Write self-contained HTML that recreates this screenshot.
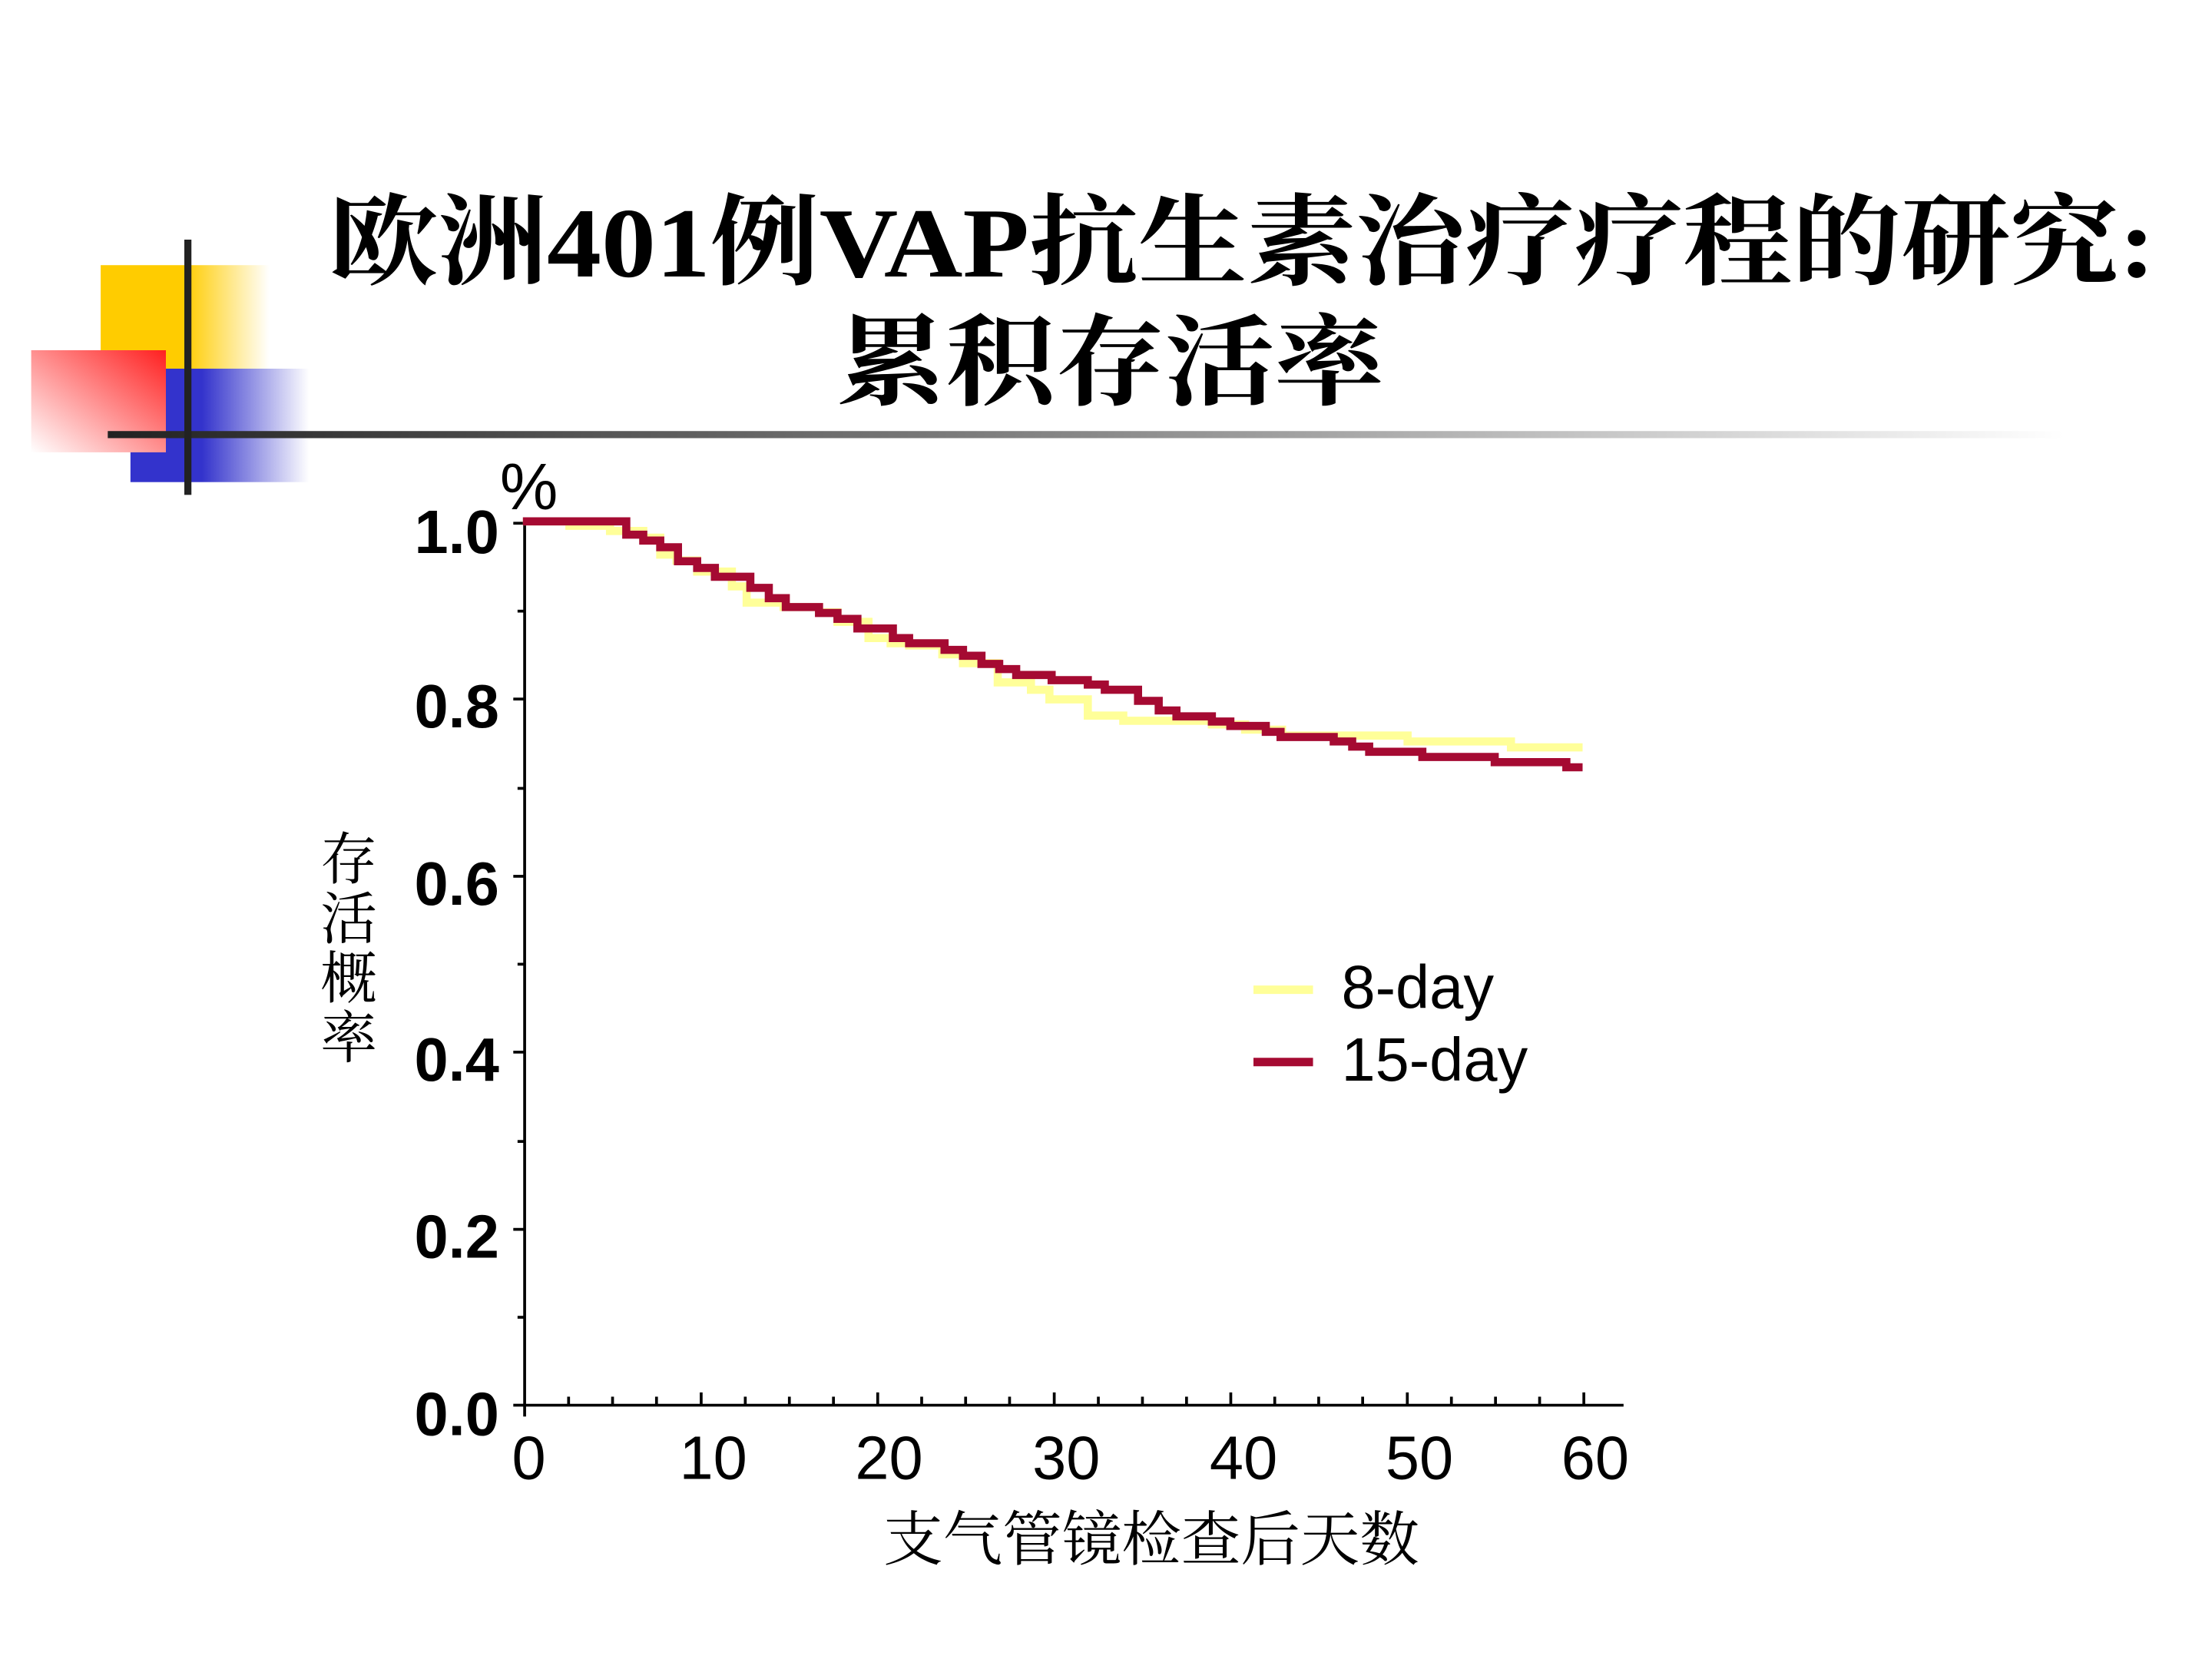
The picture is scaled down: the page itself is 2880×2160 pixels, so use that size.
<!DOCTYPE html>
<html><head><meta charset="utf-8"><style>
html,body{margin:0;padding:0;background:#fff;}
svg{display:block;}
</style></head><body>
<svg width="2880" height="2160" viewBox="0 0 1560 1170" xmlns="http://www.w3.org/2000/svg">
<defs>
<linearGradient id="gy" x1="0" x2="1" y1="0" y2="0">
<stop offset="0" stop-color="#ffcc00"/><stop offset="0.5" stop-color="#ffcc00"/><stop offset="1" stop-color="#ffcc00" stop-opacity="0"/></linearGradient>
<linearGradient id="gb" x1="0" x2="1" y1="0" y2="0">
<stop offset="0" stop-color="#3333cc"/><stop offset="0.4" stop-color="#3333cc"/><stop offset="1" stop-color="#3333cc" stop-opacity="0"/></linearGradient>
<linearGradient id="gr" x1="1" y1="0" x2="0" y2="1">
<stop offset="0" stop-color="#ff2020"/><stop offset="1" stop-color="#ffffff"/></linearGradient>
<linearGradient id="gl" x1="0" x2="1" y1="0" y2="0">
<stop offset="0" stop-color="#222"/><stop offset="0.5" stop-color="#888"/><stop offset="1" stop-color="#fff"/></linearGradient>
</defs>
<rect x="71" y="187" width="119" height="73" fill="url(#gy)"/>
<rect x="92" y="260" width="126" height="80" fill="url(#gb)"/>
<rect x="22" y="247" width="95" height="72" fill="url(#gr)"/>
<rect x="76" y="304" width="1380" height="5" fill="url(#gl)"/>
<rect x="130" y="169" width="5" height="180" fill="#222"/>

<g font-family="'Liberation Serif','Noto Serif CJK SC',serif" font-weight="bold" fill="#000" font-size="70">
<text x="232" y="195" textLength="1288" lengthAdjust="spacingAndGlyphs">欧洲401例VAP抗生素治疗疗程的研究:</text>
<text x="590" y="280" textLength="386" lengthAdjust="spacingAndGlyphs">累积存活率</text>
</g>

<g stroke="#000" stroke-width="2" fill="none">
<line x1="370" y1="369" x2="370" y2="992"/>
<line x1="369" y1="991" x2="1145" y2="991"/>
<line x1="362" y1="369" x2="370" y2="369"/>
<line x1="362" y1="493" x2="370" y2="493"/>
<line x1="362" y1="618" x2="370" y2="618"/>
<line x1="362" y1="742" x2="370" y2="742"/>
<line x1="362" y1="867" x2="370" y2="867"/>
<line x1="362" y1="991" x2="370" y2="991"/>
<line x1="365" y1="431" x2="370" y2="431"/>
<line x1="365" y1="556" x2="370" y2="556"/>
<line x1="365" y1="680" x2="370" y2="680"/>
<line x1="365" y1="805" x2="370" y2="805"/>
<line x1="365" y1="929" x2="370" y2="929"/>
<line x1="370" y1="991" x2="370" y2="999"/>
<line x1="401" y1="991" x2="401" y2="985"/>
<line x1="432" y1="991" x2="432" y2="985"/>
<line x1="463" y1="991" x2="463" y2="985"/>
<line x1="494.5" y1="991" x2="494.5" y2="982"/>
<line x1="525.6" y1="991" x2="525.6" y2="985"/>
<line x1="556.7" y1="991" x2="556.7" y2="985"/>
<line x1="587.8" y1="991" x2="587.8" y2="985"/>
<line x1="619" y1="991" x2="619" y2="982"/>
<line x1="650" y1="991" x2="650" y2="985"/>
<line x1="681" y1="991" x2="681" y2="985"/>
<line x1="712" y1="991" x2="712" y2="985"/>
<line x1="743.5" y1="991" x2="743.5" y2="982"/>
<line x1="774.6" y1="991" x2="774.6" y2="985"/>
<line x1="805.7" y1="991" x2="805.7" y2="985"/>
<line x1="836.8" y1="991" x2="836.8" y2="985"/>
<line x1="868" y1="991" x2="868" y2="982"/>
<line x1="899" y1="991" x2="899" y2="985"/>
<line x1="930" y1="991" x2="930" y2="985"/>
<line x1="961" y1="991" x2="961" y2="985"/>
<line x1="992.5" y1="991" x2="992.5" y2="982"/>
<line x1="1023.6" y1="991" x2="1023.6" y2="985"/>
<line x1="1054.7" y1="991" x2="1054.7" y2="985"/>
<line x1="1085.8" y1="991" x2="1085.8" y2="985"/>
<line x1="1117" y1="991" x2="1117" y2="982"/>
</g>

<g transform="translate(352.1,325) scale(0.5208)" fill="none" stroke-width="11" stroke-linejoin="miter" stroke-linecap="butt">
<path stroke="#ffff99" d="M32,82 H95 V88 H150 V95 H195 V104 H218 V127 H240 V135 H268 V150 H315 V170 H335 V192 H385 V198 H433 V205 H458 V218 H500 V240 H530 V247 H555 V250 H600 V262 H628 V274 H675 V300 H720 V310 H745 V323 H797 V345 H845 V352 H965 V357 H1010 V364 H1060 V372 H1230 V380 H1370 V388 H1467"/>
<path stroke="#a50a32" d="M32,82 H172 V100 H195 V108 H218 V117 H242 V136 H268 V145 H292 V157 H340 V172 H365 V186 H388 V198 H433 V206 H458 V214 H485 V227 H533 V240 H555 V247 H603 V256 H628 V264 H653 V275 H677 V282 H700 V290 H748 V297 H797 V303 H820 V310 H865 V325 H893 V338 H917 V346 H965 V353 H990 V359 H1038 V367 H1058 V374 H1130 V380 H1155 V387 H1178 V394 H1250 V401 H1348 V408 H1445 V415 H1467"/>
</g>

<g font-family="'Liberation Sans',sans-serif" font-weight="bold" font-size="43" fill="#000" text-anchor="end">
<text x="352" y="390">1.0</text>
<text x="352" y="513">0.8</text>
<text x="352" y="638">0.6</text>
<text x="352" y="762">0.4</text>
<text x="352" y="887">0.2</text>
<text x="352" y="1012">0.0</text>
</g>
<g font-family="'Liberation Sans',sans-serif" font-size="43" fill="#000" text-anchor="middle">
<text x="373" y="1043">0</text>
<text x="503" y="1043">10</text>
<text x="627" y="1043">20</text>
<text x="752" y="1043">30</text>
<text x="877" y="1043">40</text>
<text x="1001" y="1043">50</text>
<text x="1125" y="1043">60</text>
<text x="373" y="359" font-size="46">%</text>
</g>
<g font-family="'Liberation Sans','Noto Sans CJK SC',sans-serif" font-size="43" fill="#000">
<text x="812" y="1100" text-anchor="middle" font-size="42" font-family="'Liberation Serif','Noto Serif CJK SC',serif">支气管镜检查后天数</text>
<g font-family="'Liberation Serif','Noto Serif CJK SC',serif" font-size="40" text-anchor="middle">
<text x="246" y="620">存</text>
<text x="246" y="662">活</text>
<text x="246" y="704">概</text>
<text x="246" y="746">率</text>
</g>
<text x="946" y="711">8-day</text>
<text x="946" y="762">15-day</text>
</g>
<line x1="884" y1="698" x2="926" y2="698" stroke="#ffff99" stroke-width="6"/>
<line x1="884" y1="749" x2="926" y2="749" stroke="#a50a32" stroke-width="6"/>
</svg>
</body></html>
